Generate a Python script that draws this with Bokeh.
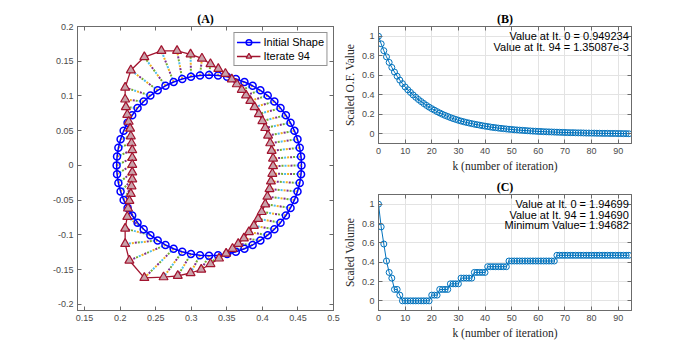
from bokeh.plotting import figure
from bokeh.layouts import row, column
from bokeh.models import (Range1d, LinearAxis, FixedTicker, CustomJSTickFormatter,
                          Label, Legend, LegendItem)
from bokeh.embed import file_html
from bokeh.resources import INLINE

# ---------------- Panel A data (shape points) ----------------
x_init = [0.4550, 0.4544, 0.4525, 0.4494, 0.4451, 0.4396, 0.4331, 0.4255, 0.4169, 0.4075,
          0.3972, 0.3863, 0.3748, 0.3627, 0.3504, 0.3377, 0.3250, 0.3123, 0.2996, 0.2873,
          0.2752, 0.2637, 0.2528, 0.2425, 0.2331, 0.2245, 0.2169, 0.2104, 0.2049, 0.2006,
          0.1975, 0.1956, 0.1950, 0.1956, 0.1975, 0.2006, 0.2049, 0.2104, 0.2169, 0.2245,
          0.2331, 0.2425, 0.2528, 0.2637, 0.2752, 0.2873, 0.2996, 0.3123, 0.3250, 0.3377,
          0.3504, 0.3627, 0.3748, 0.3863, 0.3972, 0.4075, 0.4169, 0.4255, 0.4331, 0.4396,
          0.4451, 0.4494, 0.4525, 0.4544]
y_init = [0.0000, 0.0127, 0.0254, 0.0377, 0.0497, 0.0613, 0.0722, 0.0825, 0.0919, 0.1005,
          0.1081, 0.1146, 0.1201, 0.1244, 0.1275, 0.1294, 0.1300, 0.1294, 0.1275, 0.1244,
          0.1201, 0.1146, 0.1081, 0.1005, 0.0919, 0.0825, 0.0722, 0.0613, 0.0497, 0.0377,
          0.0254, 0.0127, 0.0000, -0.0127, -0.0254, -0.0377, -0.0497, -0.0613, -0.0722, -0.0825,
          -0.0919, -0.1005, -0.1081, -0.1146, -0.1201, -0.1244, -0.1275, -0.1294, -0.1300, -0.1294,
          -0.1275, -0.1244, -0.1201, -0.1146, -0.1081, -0.1005, -0.0919, -0.0825, -0.0722, -0.0613,
          -0.0497, -0.0377, -0.0254, -0.0127]
x_it94 = [0.415, 0.415, 0.413, 0.411, 0.408, 0.404, 0.400, 0.395, 0.389, 0.383,
          0.377, 0.371, 0.364, 0.357, 0.348, 0.338, 0.327, 0.315, 0.299, 0.280,
          0.258, 0.234, 0.215, 0.207, 0.207, 0.208, 0.210, 0.212, 0.214, 0.215,
          0.216, 0.217, 0.217, 0.217, 0.217, 0.217, 0.216, 0.215, 0.213, 0.211,
          0.210, 0.207, 0.207, 0.213, 0.234, 0.261, 0.281, 0.299, 0.314, 0.327,
          0.339, 0.349, 0.358, 0.366, 0.374, 0.381, 0.388, 0.394, 0.399, 0.404,
          0.407, 0.410, 0.412, 0.414]
y_it94 = [-0.001, 0.010, 0.021, 0.032, 0.043, 0.054, 0.064, 0.074, 0.084, 0.093,
          0.101, 0.109, 0.117, 0.124, 0.132, 0.139, 0.146, 0.154, 0.160, 0.165,
          0.165, 0.156, 0.137, 0.112, 0.095, 0.084, 0.073, 0.063, 0.053, 0.042,
          0.032, 0.022, 0.011, 0.001, -0.010, -0.020, -0.030, -0.041, -0.051, -0.062,
          -0.074, -0.091, -0.113, -0.137, -0.162, -0.161, -0.159, -0.155, -0.150, -0.142,
          -0.134, -0.127, -0.120, -0.113, -0.105, -0.096, -0.087, -0.077, -0.067, -0.056,
          -0.045, -0.034, -0.023, -0.012]

# ---------------- Panel B / C data ----------------
iterations = list(range(95))
of_value = [1.000, 0.922, 0.852, 0.789, 0.732, 0.680, 0.633, 0.590, 0.550, 0.514, 0.480,
            0.451, 0.424, 0.398, 0.374, 0.351, 0.330, 0.310, 0.291, 0.273, 0.257,
            0.242, 0.227, 0.213, 0.200, 0.188, 0.177, 0.166, 0.156, 0.147, 0.138,
            0.130, 0.123, 0.116, 0.110, 0.104, 0.098, 0.093, 0.088, 0.083, 0.078,
            0.074, 0.069, 0.065, 0.062, 0.058, 0.055, 0.052, 0.049, 0.046, 0.044,
            0.041, 0.039, 0.037, 0.035, 0.033, 0.031, 0.029, 0.027, 0.026, 0.024,
            0.023, 0.021, 0.020, 0.019, 0.018, 0.017, 0.016, 0.015, 0.014, 0.013,
            0.012, 0.011, 0.011, 0.010, 0.009, 0.009, 0.008, 0.007, 0.007, 0.006,
            0.006, 0.005, 0.005, 0.004, 0.004, 0.004, 0.003, 0.003, 0.003, 0.002,
            0.002, 0.001, 0.001, 0.000]
volume = ([1.000, 0.765, 0.588, 0.412, 0.294, 0.235, 0.118, 0.118, 0.059]
          + [0.000] * 11 + [0.059] * 3 + [0.118] * 4 + [0.176] * 4 + [0.235] * 5
          + [0.294] * 5 + [0.353] * 8 + [0.412] * 18 + [0.471] * 28)

xticks_a = [0.15, 0.2, 0.25, 0.3, 0.35, 0.4, 0.45, 0.5]
yticks_a = [-0.2, -0.15, -0.1, -0.05, 0, 0.05, 0.1, 0.15, 0.2]
xticks_k = [0, 10, 20, 30, 40, 50, 60, 70, 80, 90]
yticks_s = [0, 0.2, 0.4, 0.6, 0.8, 1]

SANS = "Liberation Sans"
SERIF = "Liberation Serif"
AXC = "#6b6b6b"
TXT = "#262626"
BLUE_M = "#0072BD"

FMT = ("var s = tick.toFixed(3); s = s.replace(/0+$/, ''); s = s.replace(/\\.$/, '');"
       " if (s === '-0') { s = '0'; } return s;")


def style_axis(ax, ticks, blank=False):
    ax.ticker = FixedTicker(ticks=ticks)
    ax.formatter = CustomJSTickFormatter(code="return '';" if blank else FMT)
    ax.axis_line_color = AXC
    ax.major_tick_line_color = AXC
    ax.major_tick_in = 4
    ax.major_tick_out = 0
    ax.minor_tick_line_color = None
    ax.major_label_text_font = SANS
    ax.major_label_text_font_size = "9px"
    ax.major_label_text_color = "#4a4a4a"
    ax.major_label_standoff = 0 if blank else 4
    ax.axis_label_text_font = SERIF
    ax.axis_label_text_font_size = "11.5px"
    ax.axis_label_text_font_style = "normal"
    ax.axis_label_text_color = TXT
    ax.axis_label_standoff = 3


def setup(p, xticks, yticks, title, grid, xlabel=None, ylabel=None):
    p.title.text = title
    p.title.text_font = SERIF
    p.title.text_font_size = "12px"
    p.title.text_font_style = "bold"
    p.title.text_color = "#000000"
    p.title.align = "center"
    p.title.standoff = 2
    bottom = p.below[0]
    left = p.left[0]
    style_axis(bottom, xticks)
    style_axis(left, yticks)
    if xlabel:
        bottom.axis_label = xlabel
    if ylabel:
        left.axis_label = ylabel
    top = LinearAxis()
    right = LinearAxis()
    style_axis(top, xticks, blank=True)
    style_axis(right, yticks, blank=True)
    p.add_layout(top, "above")
    p.add_layout(right, "right")
    p.outline_line_color = AXC
    if grid:
        p.xgrid.ticker = FixedTicker(ticks=xticks)
        p.ygrid.ticker = FixedTicker(ticks=yticks)
        p.xgrid.grid_line_color = "#e3e3e3"
        p.ygrid.grid_line_color = "#e3e3e3"
    else:
        p.xgrid.grid_line_color = None
        p.ygrid.grid_line_color = None


# ---------------- Panel A ----------------
pa = figure(width=340, height=341, x_range=Range1d(0.14, 0.5), y_range=Range1d(-0.209, 0.2),
            output_backend="svg", toolbar_location=None,
            min_border_left=77, min_border_right=7, min_border_top=26, min_border_bottom=31)
setup(pa, xticks_a, yticks_a, "(A)", grid=False)

traj_colors = ["#EDB120", "#7E2F8E", "#77AC30", "#4DBEEE"]
for i, c in enumerate(traj_colors):
    pa.segment(x0=x_init, y0=y_init, x1=x_it94, y1=y_it94, line_color=c, line_width=2,
               line_dash="2 10", line_dash_offset=3 * i)

x_init_c = x_init + x_init[:1]
y_init_c = y_init + y_init[:1]
x_fin_c = x_it94 + x_it94[:1]
y_fin_c = y_it94 + y_it94[:1]

l_init = pa.line(x_init_c, y_init_c, line_color="#0000FF", line_width=1.5)
s_init = pa.scatter(x_init, y_init, marker="circle", size=7, line_color="#0000FF",
                    line_width=1.5, fill_color=None)
l_fin = pa.line(x_fin_c, y_fin_c, line_color="#A2142F", line_width=1.3)
s_fin = pa.scatter(x_it94, y_it94, marker="triangle", size=9, line_color="#A2142F",
                   line_width=1.2, fill_color="#c9a2aa")

leg = Legend(items=[LegendItem(label="Initial Shape", renderers=[l_init, s_init]),
                    LegendItem(label="Iterate 94", renderers=[l_fin, s_fin])],
             location="top_right")
leg.label_text_font = SANS
leg.label_text_font_size = "11px"
leg.label_text_color = "#000000"
leg.glyph_width = 24
leg.glyph_height = 14
leg.label_height = 14
leg.label_standoff = 3
leg.spacing = 0
leg.padding = 2
leg.margin = 6
leg.border_line_color = "#262626"
leg.border_line_width = 1
leg.background_fill_alpha = 1.0
pa.add_layout(leg)

# ---------------- Panel B ----------------
pb = figure(width=350, height=175, x_range=Range1d(0, 95), y_range=Range1d(-0.1, 1.1),
            output_backend="svg", toolbar_location=None,
            min_border_left=36, min_border_right=59, min_border_top=26, min_border_bottom=32)
setup(pb, xticks_k, yticks_s, "(B)", grid=True,
      xlabel="k (number of iteration)", ylabel="Scaled O.F. Value")
pb.line(iterations, of_value, line_color=BLUE_M, line_width=1)
pb.scatter(iterations, of_value, marker="circle", size=6, line_color=BLUE_M, line_width=1,
           fill_color=None)
for txt, yy in [("Value at It. 0 = 0.949234", 1.0), ("Value at It. 94 = 1.35087e-3", 0.888)]:
    pb.add_layout(Label(x=94, y=yy, text=txt, text_align="right", text_baseline="middle",
                        text_font=SANS, text_font_size="11px", text_color="#000000"))

# ---------------- Panel C ----------------
pc = figure(width=350, height=166, x_range=Range1d(0, 95), y_range=Range1d(-0.1, 1.1),
            output_backend="svg", toolbar_location=None,
            min_border_left=36, min_border_right=59, min_border_top=19, min_border_bottom=30)
setup(pc, xticks_k, yticks_s, "(C)", grid=True,
      xlabel="k (number of iteration)", ylabel="Scaled Volume")
pc.line(iterations, volume, line_color=BLUE_M, line_width=1)
pc.scatter(iterations, volume, marker="circle", size=6, line_color=BLUE_M, line_width=1,
           fill_color=None)
for txt, yy in [("Value at It. 0 = 1.94699", 1.0), ("Value at It. 94 = 1.94690", 0.89),
                ("Minimum Value= 1.94682", 0.78)]:
    pc.add_layout(Label(x=94, y=yy, text=txt, text_align="right", text_baseline="middle",
                        text_font=SANS, text_font_size="11px", text_color="#000000"))

layout = row(pa, column(pb, pc))
open("out.html", "w").write(file_html(layout, INLINE))
